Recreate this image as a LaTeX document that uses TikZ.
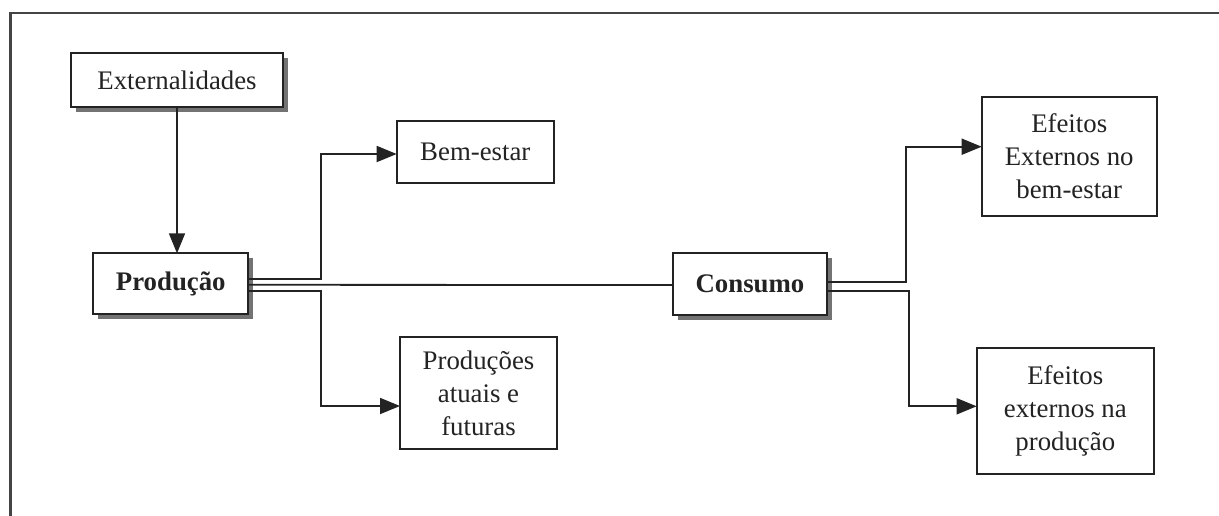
\documentclass[tikz,border=0pt]{standalone}
\usepackage{fontspec}
\setmainfont{Liberation Serif}
\usetikzlibrary{arrows.meta,shadows}
\definecolor{ink}{HTML}{232323}
\definecolor{framecol}{HTML}{444444}
\begin{document}
\begin{tikzpicture}[x=1pt,y=-1pt,
  every node/.style={font=\fontsize{26.8}{33}\selectfont, text=ink},
  box/.style={draw=ink, line width=1.7pt, fill=white, align=center,
              inner sep=0pt, outer sep=0pt},
  shbox/.style={box, drop shadow={shadow xshift=5pt, shadow yshift=-5pt,
              fill=black!55, opacity=1}},
  link/.style={draw=ink, line width=1.8pt},
  arr/.style={link, -{Triangle[length=20pt,width=16pt]}}]

\useasboundingbox (0,0) rectangle (1219,515);
\clip (0,0) rectangle (1219,515);
\fill[white] (0,0) rectangle (1219,515);

% outer frame, running past the right and lower edges
\draw[framecol, line width=2.8pt] (10.5,540) -- (10.5,13) -- (1240,13);

% boxes
\node[shbox, minimum width=212pt, minimum height=54pt] (ext) at (177,80) {Externalidades};
\node[shbox, minimum width=155pt, minimum height=61pt] (prod) at (170.8,283.8) {\bfseries Produção};
\node[shbox, minimum width=153.4pt, minimum height=61.7pt] (cons) at (750,284) {\bfseries Consumo};
\node[box, minimum width=157.3pt, minimum height=62.6pt] (bem) at (475.3,152) {Bem-estar};
\node[box, minimum width=157pt, minimum height=112pt] (prods) at (478.5,393)
  {Produções\\atuais e\\futuras};
\node[box, minimum width=175pt, minimum height=119pt] (efb) at (1069.2,156.2)
  {Efeitos\\Externos no\\bem-estar};
\node[box, minimum width=177.3pt, minimum height=126pt] (efp) at (1065.3,411)
  {Efeitos\\externos na\\produção};

% connectors
\draw[arr] (ext.south) -- (ext.south |- prod.north);

\draw[arr] ([yshift=4.5pt]prod.east) -- ++(72.4,0) |- ([yshift=-2pt]bem.west);
\draw[arr] ([yshift=-7pt]prod.east) -- ++(72.4,0) |- ([yshift=-13pt]prods.west);
\draw[link] ([yshift=-1pt]prod.east) -- ([yshift=-1pt]cons.west);

\draw[arr] ([yshift=2.3pt]cons.east) -- ++(79.3,0) |- ([yshift=9.5pt]efb.west);
\draw[arr] ([yshift=-6.7pt]cons.east) -- ++(82.6,0) |- ([yshift=4.7pt]efp.west);

\end{tikzpicture}
\end{document}
